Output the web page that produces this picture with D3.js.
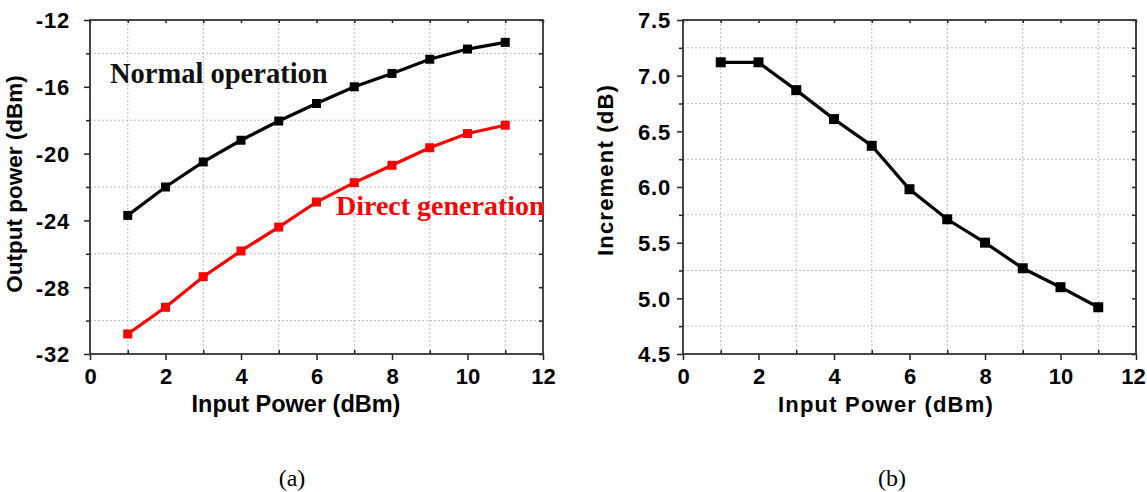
<!DOCTYPE html>
<html><head><meta charset="utf-8">
<script src="https://cdn.jsdelivr.net/npm/d3@7"></script>
<style>body{margin:0;background:#fff}svg{display:block}</style>
</head><body>
<svg id="c" width="1147" height="492"></svg>
<script>
const inputPower = [1,2,3,4,5,6,7,8,9,10,11];
const normalOperation = [-23.7,-22.0,-20.5,-19.2,-18.05,-17.0,-16.0,-15.2,-14.35,-13.74,-13.34];
const directGeneration = [-30.8,-29.2,-27.37,-25.83,-24.4,-22.9,-21.74,-20.7,-19.65,-18.8,-18.3];
const increment = [7.12,7.12,6.87,6.61,6.37,5.98,5.71,5.5,5.27,5.1,4.92];
const xTicks = [0,2,4,6,8,10,12];
const xGrid = [1,3,5,7,9,11];
const yTicksA = [-32,-28,-24,-20,-16,-12];
const yGridA = [-30,-26,-22,-18,-14];
const yTicksB = [4.5,5.0,5.5,6.0,6.5,7.0,7.5];
const yGridB = [4.75,5.25,5.75,6.25,6.75,7.25];

const svg = d3.select('#c');
const SANS = '"Liberation Sans", Arial, sans-serif';
const SERIF = '"Liberation Serif", "Times New Roman", serif';
const hyph = f => d => f(d).replace('\u2212','-');

function panel(o){
  const g = svg.append('g');
  const x = d3.scaleLinear().domain([0,12]).range([o.left,o.right]);
  const y = d3.scaleLinear().domain(o.yDomain).range([o.bottom,o.top]);
  g.selectAll('.gx').data(xGrid).join('line')
    .attr('x1',d=>x(d)).attr('x2',d=>x(d)).attr('y1',o.top).attr('y2',o.bottom)
    .attr('stroke','#bdbdbd').attr('stroke-width',1).attr('stroke-dasharray','2,2');
  g.selectAll('.gy').data(o.yGrid).join('line')
    .attr('y1',d=>y(d)).attr('y2',d=>y(d)).attr('x1',o.left).attr('x2',o.right)
    .attr('stroke','#bdbdbd').attr('stroke-width',1).attr('stroke-dasharray','2,2');
  const ax = d3.axisBottom(x).tickValues(xTicks).tickSize(6).tickFormat(d3.format('d'));
  const gx = g.append('g').attr('transform',`translate(0,${o.bottom})`).call(ax);
  const ay = d3.axisLeft(y).tickValues(o.yTicks).tickSize(6).tickFormat(hyph(o.fmt));
  const gy = g.append('g').attr('transform',`translate(${o.left},0)`).call(ay);
  g.append('g').attr('transform',`translate(0,${o.bottom})`)
    .call(d3.axisBottom(x).tickValues(xGrid).tickSize(-4).tickFormat(''))
    .call(s=>s.select('.domain').remove());
  g.append('g').attr('transform',`translate(${o.left},0)`)
    .call(d3.axisLeft(y).tickValues(o.yGrid).tickSize(4).tickFormat(''))
    .call(s=>s.select('.domain').remove());
  g.append('g').attr('transform',`translate(${o.right},0)`)
    .call(d3.axisLeft(y).tickValues(o.yGrid.concat(o.yTicks)).tickSize(4).tickFormat(''))
    .call(s=>s.select('.domain').remove());
  g.append('g').attr('transform',`translate(0,${o.top})`)
    .call(d3.axisBottom(x).tickValues(xTicks.concat(xGrid)).tickSize(3).tickFormat(''))
    .call(s=>s.select('.domain').remove());
  g.selectAll('.tick line').attr('stroke','#222').attr('stroke-width',1.5);
  [gx,gy].forEach(s=>{
    s.select('.domain').remove();
    s.attr('font-family',null).attr('font-size',null);
    s.selectAll('text').style('font-family',SANS).style('font-weight','bold')
      .style('font-size','22px').attr('fill','#000');
  });
  gy.selectAll('text').style('letter-spacing','0.8px');
  gx.selectAll('text').attr('y',8).attr('dy','0.98em');
  if (o.lastShift) gx.selectAll('text').filter(d=>d===12).attr('x',o.lastShift);
  gy.selectAll('text').attr('x',o.tickLabX).attr('dy','0.36em');
  g.append('rect').attr('x',o.left).attr('y',o.top)
    .attr('width',o.right-o.left).attr('height',o.bottom-o.top)
    .attr('fill','none').attr('stroke','#333').attr('stroke-width',1.8);
  g.append('text').attr('x',o.xlabX).attr('y',o.bottom+58)
    .attr('text-anchor','middle').style('font-family',SANS).style('font-weight','bold')
    .style('font-size',o.labFs+'px').style('letter-spacing',o.ls+'px').text('Input Power (dBm)');
  g.append('text').attr('transform',`translate(${o.ylabX},${o.ylabY}) rotate(-90)`)
    .attr('text-anchor','middle').style('font-family',SANS).style('font-weight','bold')
    .style('font-size',o.ylabFs+'px').style('letter-spacing',o.ls+'px').text(o.ylabel);
  o.series.forEach(s=>{
    const pts = inputPower.map((v,i)=>[v,s.values[i]]);
    g.append('path').datum(pts)
      .attr('d',d3.line().x(d=>x(d[0])).y(d=>y(d[1])))
      .attr('fill','none').attr('stroke',s.color).attr('stroke-width',3.2);
    g.selectAll(null).data(pts).join('rect')
      .attr('x',d=>x(d[0])-s.ms/2).attr('y',d=>y(d[1])-s.ms/2)
      .attr('width',s.ms).attr('height',s.ms).attr('fill',s.color);
  });
  return {g,x,y};
}

const A = panel({left:90,right:543,top:20,bottom:354,yDomain:[-32,-12],
  yTicks:yTicksA,yGrid:yGridA,fmt:d3.format('d'),ylabel:'Output power (dBm)',
  ylabX:22,ylabY:184,xlabX:296,tickLabX:-20,labFs:23.5,ylabFs:22.5,ls:0,
  series:[{values:normalOperation,color:'#000',ms:9},{values:directGeneration,color:'#ff0000',ms:9}]});
A.g.append('text').attr('x',110).attr('y',83).style('font-family',SERIF).style('font-weight','bold')
  .style('font-size','28.5px').attr('fill','#111').text('Normal operation');
A.g.append('text').attr('x',336).attr('y',215).style('font-family',SERIF).style('font-weight','bold')
  .style('font-size','28px').attr('fill','#ff0000').text('Direct generation');

const B = panel({left:683,right:1136,top:20,bottom:354,yDomain:[4.5,7.5],
  yTicks:yTicksB,yGrid:yGridB,fmt:d3.format('.1f'),ylabel:'Increment (dB)',
  ylabX:613,ylabY:170,xlabX:886,tickLabX:-12,labFs:22,ylabFs:22,ls:1.2,lastShift:-3,
  series:[{values:increment,color:'#000',ms:10}]});

svg.append('text').attr('x',292).attr('y',486).attr('text-anchor','middle')
  .style('font-family',SERIF).style('font-size','24px').text('(a)');
svg.append('text').attr('x',892).attr('y',486).attr('text-anchor','middle')
  .style('font-family',SERIF).style('font-size','24px').text('(b)');
</script>
</body></html>
